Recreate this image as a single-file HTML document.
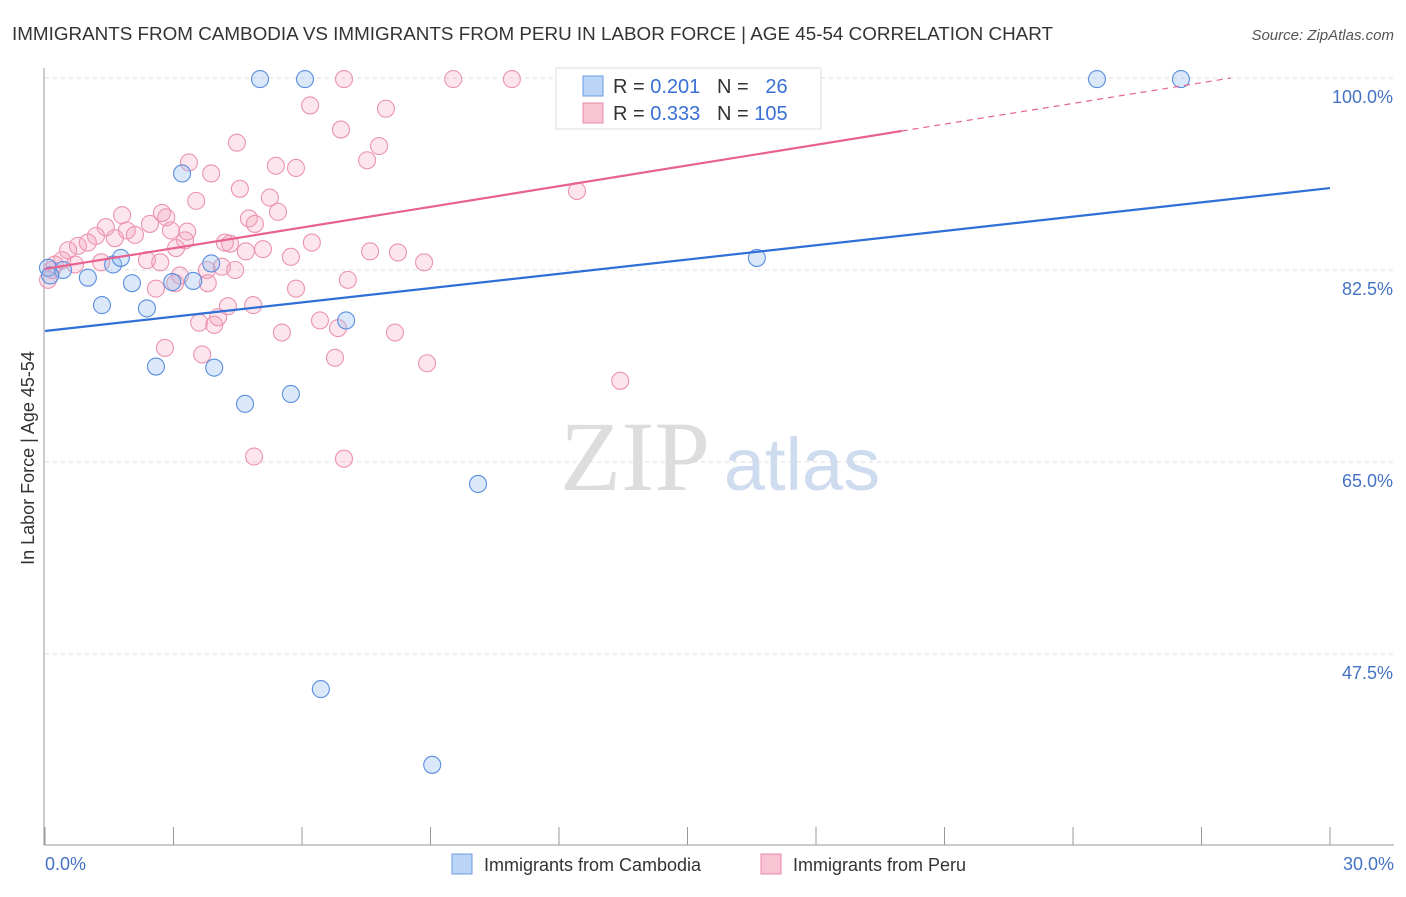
<!DOCTYPE html>
<html><head><meta charset="utf-8"><style>
body{margin:0;background:#fff;font-family:"Liberation Sans",sans-serif;}
</style></head><body>
<svg width="1406" height="892" viewBox="0 0 1406 892" xmlns="http://www.w3.org/2000/svg">
<text x="12" y="40" font-size="18" fill="#333" textLength="1041" lengthAdjust="spacingAndGlyphs">IMMIGRANTS FROM CAMBODIA VS IMMIGRANTS FROM PERU IN LABOR FORCE | AGE 45-54 CORRELATION CHART</text>
<text x="1394" y="40" font-size="15" fill="#555" font-style="italic" text-anchor="end">Source: ZipAtlas.com</text>
<text x="635" y="490" font-size="100" fill="#ddd" font-family="Liberation Serif" text-anchor="middle">ZIP</text>
<text x="802" y="490" font-size="74" fill="#cfdcf0" text-anchor="middle">atlas</text>
<g id="grid"></g>
<g id="axes"></g>
<g id="marks"></g>
<text transform="translate(34,458) rotate(-90)" font-size="18" fill="#333" text-anchor="middle">In Labor Force | Age 45-54</text>
<text x="45" y="870" font-size="18" fill="#4472c4">0.0%</text>
<text x="1394" y="870" font-size="18" fill="#4472c4" text-anchor="end">30.0%</text>
<g>
<rect x="556" y="68" width="265" height="61" fill="#fff" stroke="#ddd"/>
<rect x="583" y="76" width="20" height="20" fill="#bcd4f5" stroke="#6a9be0"/>
<rect x="583" y="103" width="20" height="20" fill="#f8c3d3" stroke="#e98aa8"/>
<text x="613" y="93" font-size="20" fill="#333">R = <tspan fill="#3a6fd8">0.201</tspan>&#160;&#160;&#160;N = &#160;&#160;<tspan fill="#3a6fd8">26</tspan></text>
<text x="613" y="120" font-size="20" fill="#333">R = <tspan fill="#3a6fd8">0.333</tspan>&#160;&#160;&#160;N = <tspan fill="#3a6fd8">105</tspan></text>
</g>
<g><rect x="452" y="854" width="20" height="20" fill="#bcd4f5" stroke="#6a9be0"/><text x="484" y="871" font-size="18" fill="#333">Immigrants from Cambodia</text></g>
<g><rect x="761" y="854" width="20" height="20" fill="#f8c3d3" stroke="#e98aa8"/><text x="793" y="871" font-size="18" fill="#333">Immigrants from Peru</text></g>
</svg>
<script>
const yTicks=[100,82.5,65,47.5];
const yTickLabels=["100.0%","82.5%","65.0%","47.5%"];
const xTicks=[0,3,6,9,12,15,18,21,24,27,30];
const cambX=[5.02,6.07,24.56,26.52,3.2,0.07,0.42,1.0,1.59,1.77,2.03,1.33,2.38,2.97,3.46,3.88,16.62,7.03,2.59,3.95,4.67,5.74,10.11,6.44,9.04,0.12];
const cambY=[99.9,99.9,99.9,99.9,91.3,82.7,82.5,81.8,83.0,83.6,81.3,79.3,79.0,81.4,81.5,83.1,83.6,77.9,73.7,73.6,70.3,71.2,63.0,44.3,37.4,82.0];
const peruX=[6.98,9.53,10.9,12.3,16.32,6.19,7.96,6.91,4.48,7.8,3.36,7.52,5.39,5.86,3.88,4.55,12.42,5.25,3.53,5.44,1.8,4.76,2.83,2.73,1.42,2.45,4.9,3.32,2.94,1.91,1.19,1.63,2.1,4.32,4.2,3.27,6.23,0.77,0.54,1.0,3.06,5.09,4.69,7.59,8.24,5.74,8.85,2.38,2.69,1.31,0.4,0.23,0.7,3.78,4.13,4.44,3.15,7.07,3.8,3.04,2.59,5.86,4.86,4.27,4.04,3.6,3.95,6.42,5.53,6.84,8.17,2.8,3.67,6.77,8.92,13.43,4.88,6.98,0.07,0.16];
const peruY=[99.9,99.9,99.9,99.9,99.9,97.5,97.2,95.3,94.1,93.8,92.3,92.5,92.0,91.8,91.3,89.9,89.7,89.1,88.8,87.8,87.5,87.2,87.3,87.7,86.4,86.7,86.7,86.0,86.1,86.1,85.6,85.4,85.7,84.9,85.0,85.2,85.0,84.7,84.3,85.0,84.5,84.4,84.2,84.2,84.1,83.7,83.2,83.4,83.2,83.2,83.4,83.0,83.0,82.5,82.8,82.5,82.0,81.6,81.3,81.3,80.8,80.8,79.3,79.2,78.2,77.7,77.5,77.9,76.8,77.2,76.8,75.4,74.8,74.5,74.0,72.4,65.5,65.3,81.6,82.5];
const cambTrend=[76.94,89.97]; // y at x=0, x=30
const peruTrend=[82.6,95.17]; // y at x=0, x=20
const X=v=>45+v*1285/30, Y=v=>78+(100-v)*192/17.5;
const NS='http://www.w3.org/2000/svg';
function mk(t,a,p){const e=document.createElementNS(NS,t);for(const k in a)e.setAttribute(k,a[k]);p.appendChild(e);return e;}
const grid=document.getElementById('grid'),axes=document.getElementById('axes'),marks=document.getElementById('marks');
yTicks.forEach((v,i)=>{const l=mk('line',{x1:45,x2:1394,y1:Y(v),y2:Y(v),stroke:'#ddd','stroke-dasharray':'4,4'},grid);


const t=mk('text',{x:1393,y:Y(v)+25,'font-size':18,fill:'#4472c4','text-anchor':'end'},axes);t.textContent=yTickLabels[i];

});
const ya=mk('line',{x1:44,x2:44,y1:68,y2:845,stroke:'#999'},axes);


const xa=mk('line',{x1:44,x2:1394,y1:845,y2:845,stroke:'#999'},axes);


xTicks.forEach(v=>{const t=mk('line',{x1:X(v),x2:X(v),y1:827,y2:845,stroke:'#999'},axes);

});
peruX.forEach((x,i)=>{const c=mk('circle',{cx:X(x),cy:Y(peruY[i]),r:8.5,fill:'rgba(244,160,185,0.28)',stroke:'#eb94b0','stroke-width':1.1},marks);

});
cambX.forEach((x,i)=>{const c=mk('circle',{cx:X(x),cy:Y(cambY[i]),r:8.5,fill:'rgba(150,190,240,0.35)',stroke:'#5a8ede','stroke-width':1.1},marks);

});
const bl=mk('line',{x1:X(0),y1:Y(cambTrend[0]),x2:X(30),y2:Y(cambTrend[1]),stroke:'#2f6fd6','stroke-width':2.2},marks);


const ps=(peruTrend[1]-peruTrend[0])/20, xe=(100-peruTrend[0])/ps;
const pl=mk('line',{x1:X(0),y1:Y(peruTrend[0]),x2:X(20),y2:Y(peruTrend[1]),stroke:'#e8628f','stroke-width':2.2},marks);


const pd=mk('line',{x1:X(20),y1:Y(peruTrend[1]),x2:X(xe),y2:Y(100),stroke:'#e8628f','stroke-width':1.2,'stroke-dasharray':'6,5'},marks);


</script>
</body></html>
